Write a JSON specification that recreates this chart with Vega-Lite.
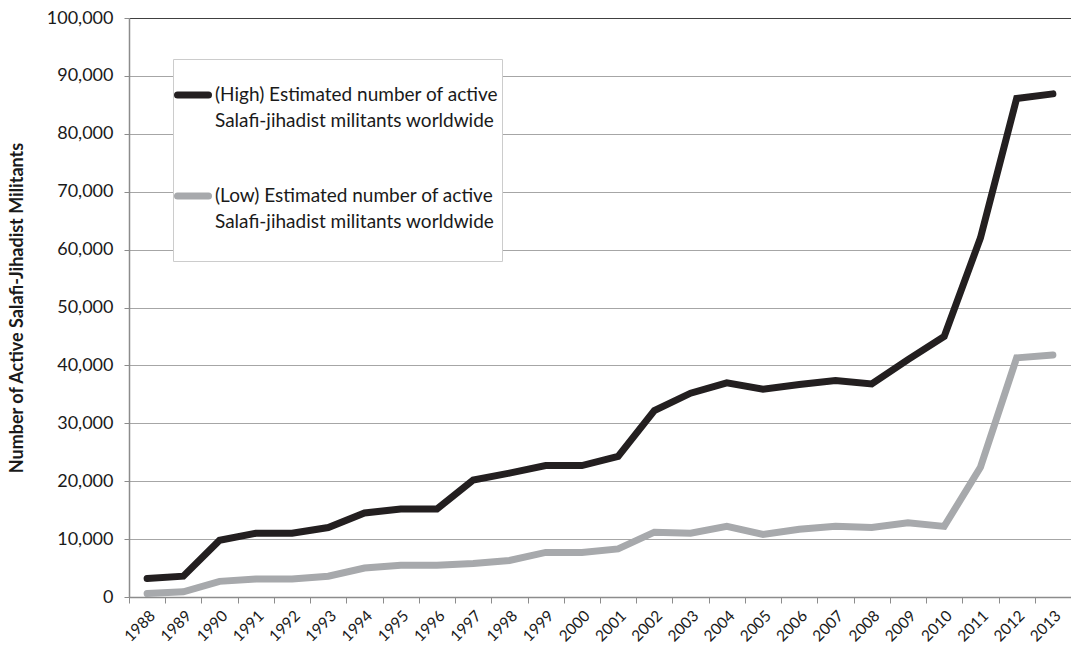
{
  "$schema": "https://vega.github.io/schema/vega-lite/v6.json",
  "autosize": {"type": "none"},
  "width": 942,
  "height": 579,
  "padding": {"left": 129, "top": 18, "right": 0, "bottom": 59},
  "background": "white",
  "config": {
    "view": {"stroke": null},
    "font": "Lato",
    "axis": {"labelFont": "Lato", "titleFont": "Lato", "labelColor": "#1a1a1a", "titleColor": "#1a1a1a"}
  },
  "data": {
    "values": [
      {"year": "1988", "series": "High", "value": 3200},
      {"year": "1989", "series": "High", "value": 3600},
      {"year": "1990", "series": "High", "value": 9800},
      {"year": "1991", "series": "High", "value": 11000},
      {"year": "1992", "series": "High", "value": 11000},
      {"year": "1993", "series": "High", "value": 12000},
      {"year": "1994", "series": "High", "value": 14500},
      {"year": "1995", "series": "High", "value": 15200},
      {"year": "1996", "series": "High", "value": 15200},
      {"year": "1997", "series": "High", "value": 20200},
      {"year": "1998", "series": "High", "value": 21400},
      {"year": "1999", "series": "High", "value": 22700},
      {"year": "2000", "series": "High", "value": 22700},
      {"year": "2001", "series": "High", "value": 24300},
      {"year": "2002", "series": "High", "value": 32200},
      {"year": "2003", "series": "High", "value": 35200},
      {"year": "2004", "series": "High", "value": 37000},
      {"year": "2005", "series": "High", "value": 35900},
      {"year": "2006", "series": "High", "value": 36700},
      {"year": "2007", "series": "High", "value": 37400},
      {"year": "2008", "series": "High", "value": 36800},
      {"year": "2009", "series": "High", "value": 41000},
      {"year": "2010", "series": "High", "value": 45000},
      {"year": "2011", "series": "High", "value": 62000},
      {"year": "2012", "series": "High", "value": 86100},
      {"year": "2013", "series": "High", "value": 86900},
      {"year": "1988", "series": "Low", "value": 600},
      {"year": "1989", "series": "Low", "value": 900},
      {"year": "1990", "series": "Low", "value": 2700},
      {"year": "1991", "series": "Low", "value": 3100},
      {"year": "1992", "series": "Low", "value": 3100},
      {"year": "1993", "series": "Low", "value": 3600},
      {"year": "1994", "series": "Low", "value": 5000},
      {"year": "1995", "series": "Low", "value": 5500},
      {"year": "1996", "series": "Low", "value": 5500},
      {"year": "1997", "series": "Low", "value": 5800},
      {"year": "1998", "series": "Low", "value": 6300},
      {"year": "1999", "series": "Low", "value": 7700},
      {"year": "2000", "series": "Low", "value": 7700},
      {"year": "2001", "series": "Low", "value": 8300},
      {"year": "2002", "series": "Low", "value": 11200},
      {"year": "2003", "series": "Low", "value": 11000},
      {"year": "2004", "series": "Low", "value": 12200},
      {"year": "2005", "series": "Low", "value": 10800},
      {"year": "2006", "series": "Low", "value": 11700},
      {"year": "2007", "series": "Low", "value": 12200},
      {"year": "2008", "series": "Low", "value": 12000},
      {"year": "2009", "series": "Low", "value": 12800},
      {"year": "2010", "series": "Low", "value": 12200},
      {"year": "2011", "series": "Low", "value": 22400},
      {"year": "2012", "series": "Low", "value": 41300},
      {"year": "2013", "series": "Low", "value": 41800}
    ]
  },
  "mark": {"type": "line", "strokeWidth": 7, "strokeCap": "round", "strokeJoin": "miter"},
  "encoding": {
    "x": {
      "field": "year",
      "type": "ordinal",
      "bandPosition": 0.5,
      "scale": {"type": "band", "paddingInner": 0, "paddingOuter": 0},
      "axis": {
        "title": null,
        "labelAngle": -45,
        "labelFontSize": 15.5,
        "labelPadding": 5,
        "tickBand": "extent",
        "tickSize": 6,
        "tickColor": "#8c8c8c",
        "domainColor": "#8c8c8c",
        "domainWidth": 1.5,
        "grid": false
      }
    },
    "y": {
      "field": "value",
      "type": "quantitative",
      "scale": {"domain": [0, 100000], "nice": false},
      "axis": {
        "title": "Number of Active Salafi-Jihadist Militants",
        "titleFontSize": 18,
        "titleFontWeight": "bold",
        "titlePadding": 20,
        "values": [0, 10000, 20000, 30000, 40000, 50000, 60000, 70000, 80000, 90000, 100000],
        "format": ",d",
        "labelFontSize": 18,
        "labelPadding": 11,
        "tickSize": 5,
        "tickColor": "#8c8c8c",
        "domainColor": "#8c8c8c",
        "domainWidth": 1.5,
        "gridColor": {"condition": {"test": "datum.value === 100000", "value": "#404040"}, "value": "#a6a6a6"},
        "gridWidth": 1.2
      }
    },
    "color": {
      "field": "series",
      "type": "nominal",
      "scale": {"domain": ["High", "Low"], "range": ["#231f20", "#a7a9ac"]},
      "legend": {
        "orient": "none",
        "legendX": 44,
        "legendY": 41,
        "title": "\u00a0",
        "titleOrient": "top",
        "titleFontSize": 8,
        "titlePadding": 6,
        "padding": 3,
        "symbolType": "stroke",
        "symbolSize": 961,
        "symbolStrokeWidth": 7,
        "symbolOffset": -2,
        "labelFontSize": 19,
        "labelFont": "Lato",
        "labelColor": "#1a1a1a",
        "labelOffset": 3,
        "labelLimit": 400,
        "rowPadding": 46,
        "strokeColor": "#cccccc",
        "fillColor": "white",
        "labelExpr": "datum.value == 'High' ? ['(High) Estimated number of active', 'Salafi-jihadist militants worldwide'] : ['(Low) Estimated number of active', 'Salafi-jihadist militants worldwide', '']",
        "encode": {
          "labels": {"update": {"lineHeight": {"value": 26}}},
          "symbols": {"update": {"strokeCap": {"value": "round"}}}
        }
      }
    }
  }
}
